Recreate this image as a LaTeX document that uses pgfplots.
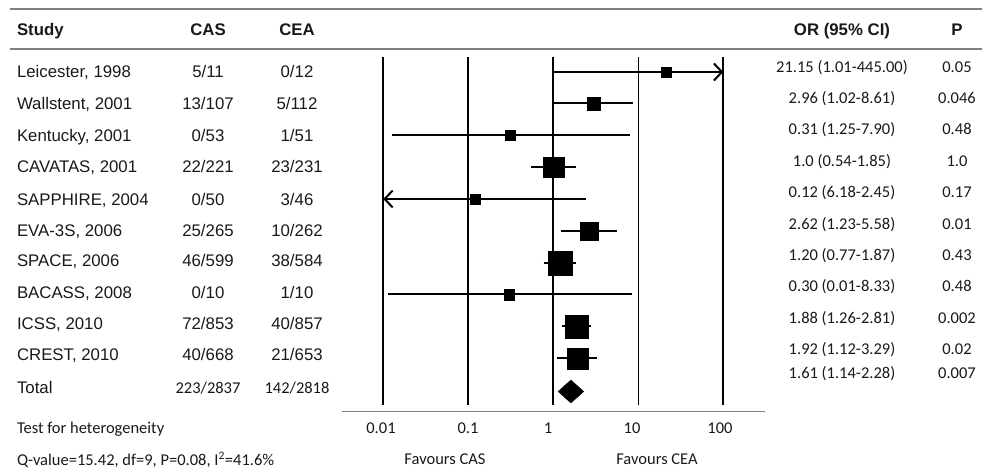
\documentclass[border=0pt]{standalone}
\usepackage{fontspec}
\setmainfont{Liberation Sans}
\newfontfamily\calfont{Carlito}
\usepackage{pgfplots}
\pgfplotsset{compat=1.18}
\usetikzlibrary{arrows.meta}

\begin{document}
\begin{tikzpicture}[x=1bp,y=1bp,
  every node/.style={inner sep=0pt, outer sep=0pt, text=black!90, font=\fontsize{16.8bp}{19bp}\selectfont}]
\path[use as bounding box] (0,0) rectangle (982,469);
\begin{axis}[at={(0,0)}, anchor=south west, scale only axis, width=982bp, height=469bp,
  hide axis, xmode=log, xmin=3.094e-7, xmax=1.1056e5, ymin=0, ymax=469, y dir=reverse, clip=false]
% reference lines
\addplot[black, line width=2bp] coordinates {(0.01,57) (0.01,405)};
\addplot[black, line width=2bp] coordinates {(0.1,57) (0.1,405)};
\addplot[black, line width=2bp] coordinates {(1,57) (1,405)};
\addplot[black, line width=1bp] coordinates {(10,57) (10,405)};
\addplot[black, line width=2bp] coordinates {(100,57) (100,405)};
% x axis line
\addplot[gray, line width=1.5bp] coordinates {(0.003266,411.5) (307.6,411.5)};
% confidence intervals
\pgfplotsset{ci/.style={black, line width=2bp}}
\addplot[ci, -{Straight Barb[length=8bp,width=17bp]}] coordinates {(1.01,72) (100,72)};
\addplot[ci] coordinates {(1.02,103.5) (8.61,103.5)};
\addplot[ci] coordinates {(0.0125,135.5) (7.90,135.5)};
\addplot[ci] coordinates {(0.54,167) (1.85,167)};
\addplot[ci, {Straight Barb[length=8bp,width=17bp]}-] coordinates {(0.01,199) (2.45,199)};
\addplot[ci] coordinates {(1.23,231) (5.58,231)};
\addplot[ci] coordinates {(0.77,263) (1.87,263)};
\addplot[ci] coordinates {(0.0115,294.5) (8.33,294.5)};
\addplot[ci] coordinates {(1.26,326.5) (2.81,326.5)};
\addplot[ci] coordinates {(1.12,358.5) (3.29,358.5)};
% point estimates
\pgfplotsset{sq/.style={only marks, mark=square*, mark options={fill=black, draw=black, line width=0.2bp}}}
\addplot[sq, mark size=5.2bp] coordinates {(21.15,72)};
\addplot[sq, mark size=6.5bp] coordinates {(2.96,103.5)};
\addplot[sq, mark size=5.1bp] coordinates {(0.31,135.5)};
\addplot[sq, mark size=10.3bp] coordinates {(1.0,167)};
\addplot[sq, mark size=4.9bp] coordinates {(0.12,199)};
\addplot[sq, mark size=9.0bp] coordinates {(2.62,231)};
\addplot[sq, mark size=11.8bp] coordinates {(1.20,263)};
\addplot[sq, mark size=5.2bp] coordinates {(0.30,294.5)};
\addplot[sq, mark size=11.6bp] coordinates {(1.88,326.5)};
\addplot[sq, mark size=10.6bp] coordinates {(1.92,358.5)};
% pooled estimate
\addplot[fill=black, draw=black, line width=0.4bp] coordinates {(1.14,391.5) (1.61,380) (2.28,391.5) (1.61,403)} -- cycle;
\end{axis}
% table rules
\draw[gray, line width=1.3bp] (10,460) -- (982,460);
\draw[gray, line width=1.3bp] (10,420) -- (982,420);
% header
\node[anchor=base west] at (17,433) {\bfseries Study};
\node[anchor=base] at (208,433) {\bfseries CAS};
\node[anchor=base] at (297,433) {\bfseries CEA};
\node[anchor=base] at (842,433) {\bfseries OR (95\% CI)};
\node[anchor=base] at (957,433) {\bfseries P};
% left table
\foreach \y/\s/\a/\b in {71.7/{Leicester, 1998}/5\slash 11/0\slash 12,
  103.3/{Wallstent, 2001}/13\slash 107/5\slash 112,
  135.7/{Kentucky, 2001}/0\slash 53/1\slash 51,
  166.7/{CAVATAS, 2001}/22\slash 221/23\slash 231,
  199.3/{SAPPHIRE, 2004}/0\slash 50/3\slash 46,
  230.7/{EVA-3S, 2006}/25\slash 265/10\slash 262,
  261/{SPACE, 2006}/46\slash 599/38\slash 584,
  292.3/{BACASS, 2008}/0\slash 10/1\slash 10,
  323.3/{ICSS, 2010}/72\slash 853/40\slash 857,
  354.3/{CREST, 2010}/40\slash 668/21\slash 653}{
  \node[anchor=base west] at (17,469-\y-6) {\s};
  \node[anchor=base] at (208,469-\y-6) {\a};
  \node[anchor=base] at (297,469-\y-6) {\b};
}
\node[anchor=base west] at (17,469-387.7-6) {Total};
\node[anchor=base] at (208,469-387.7-5.5) {\fontsize{16.5bp}{19bp}\calfont 223/2837};
\node[anchor=base] at (297,469-387.7-5.5) {\fontsize{16.5bp}{19bp}\calfont 142/2818};
% right table
\foreach \y/\o/\p in {66.7/21.15 (1.01-445.00)/0.05,
  98.1/2.96 (1.02-8.61)/0.046,
  129.5/0.31 (1.25-7.90)/0.48,
  160.9/1.0 (0.54-1.85)/1.0,
  192.3/0.12 (6.18-2.45)/0.17,
  223.7/2.62 (1.23-5.58)/0.01,
  255.1/1.20 (0.77-1.87)/0.43,
  286.5/0.30 (0.01-8.33)/0.48,
  317.9/1.88 (1.26-2.81)/0.002,
  349.3/1.92 (1.12-3.29)/0.02,
  373.3/1.61 (1.14-2.28)/0.007}{
  \node[anchor=base] at (842,469-\y-5.5) {\fontsize{16.5bp}{19bp}\calfont \o};
  \node[anchor=base] at (957,469-\y-5.5) {\fontsize{16.5bp}{19bp}\calfont \p};
}
% bottom
\tikzset{cal/.style={font=\fontsize{16.5bp}{19bp}\calfont}}
\node[cal, anchor=base west] at (17,469-433.5) {Test for heterogeneity};
\node[cal, anchor=base west] at (17,469-465.5) {Q-value=15.42, df=9, P=0.08, I\textsuperscript{2}=41.6\%};
\node[cal, anchor=base] at (381,469-433.5) {0.01};
\node[cal, anchor=base] at (468,469-433.5) {0.1};
\node[cal, anchor=base] at (548,469-433.5) {1};
\node[cal, anchor=base] at (632,469-433.5) {10};
\node[cal, anchor=base] at (720,469-433.5) {100};
\node[cal, anchor=base] at (445,469-464.5) {Favours CAS};
\node[cal, anchor=base] at (657,469-464.5) {Favours CEA};
\end{tikzpicture}
\end{document}
